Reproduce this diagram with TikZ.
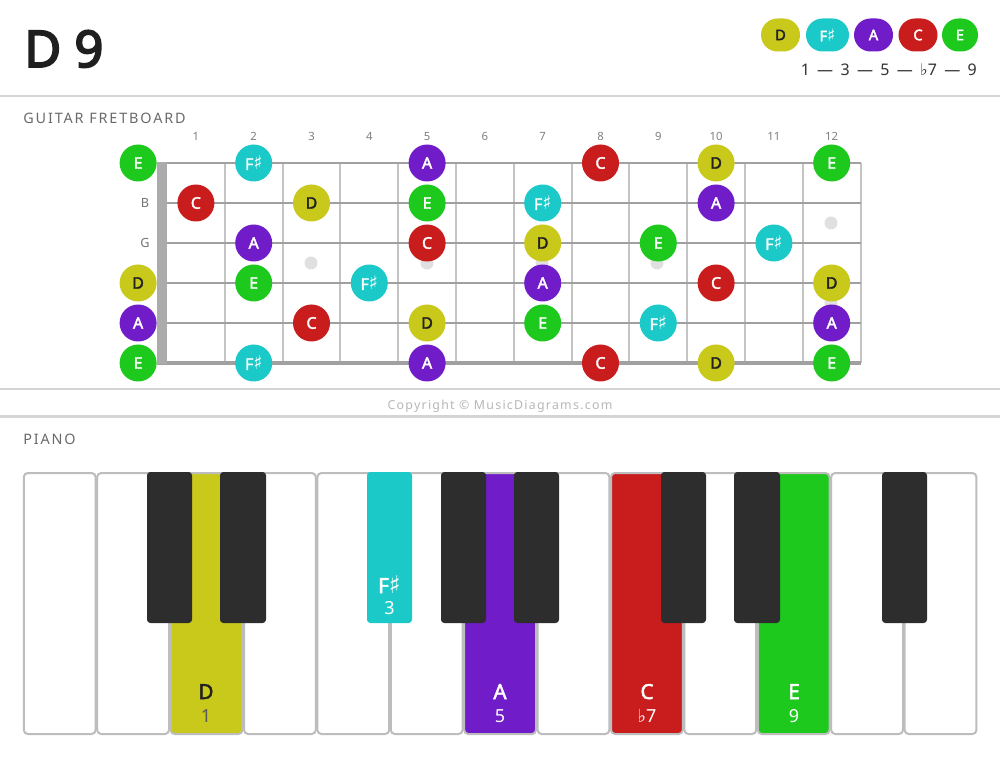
\documentclass[tikz,border=0pt]{standalone}
\usepackage{fontspec}
\setmainfont{Noto Sans}[BoldFont={Noto Sans},BoldFeatures={FakeBold=2.4}]
\newfontfamily\titlef{Noto Sans}[FakeBold=3.6]
\newfontfamily\symf{DejaVu Sans}
\newfontfamily\symbig{DejaVu Sans}[Scale=1.18]
\newfontfamily\spacedf[LetterSpace=13]{Noto Sans}
\newfontfamily\copyf[LetterSpace=10]{Noto Sans}
\usetikzlibrary{shapes.misc}
\definecolor{dcol}{HTML}{C9C91C}
\definecolor{fcol}{HTML}{1CC9C9}
\definecolor{acol}{HTML}{701CC9}
\definecolor{ccol}{HTML}{C91C1C}
\definecolor{ecol}{HTML}{1CC91C}
\definecolor{dtext}{HTML}{222222}
\definecolor{sepc}{HTML}{D4D4D4}
\definecolor{strc}{HTML}{A0A0A0}
\definecolor{fretc}{HTML}{C4C4C4}
\definecolor{nutc}{HTML}{ABABAB}
\definecolor{dotc}{HTML}{E0E0E0}
\definecolor{keyb}{HTML}{BDBDBD}
\definecolor{blk}{HTML}{2D2D2D}
\definecolor{labc}{HTML}{6A6A6A}
\newcommand\shp{{\symbig ♯}}
\newcommand\flt{{\symf ♭}}
\newcommand\ds{\hspace{5.5pt}—\hspace{5.5pt}}
\begin{document}
\begin{tikzpicture}[x=0.75pt,y=-0.75pt,
  txt/.style={inner sep=0pt},
  notec/.style={circle,minimum size=27.75pt,inner sep=0pt,font=\fontsize{12}{12}\selectfont\bfseries,text=white},
  nD/.style={notec,fill=dcol,text=dtext},
  nF/.style={notec,fill=fcol},
  nA/.style={notec,fill=acol},
  nC/.style={notec,fill=ccol},
  nE/.style={notec,fill=ecol},
  lg/.style={rounded rectangle,minimum height=24.75pt,minimum width=29.25pt,inner sep=0pt,font=\fontsize{11}{11}\selectfont\bfseries,text=white},
  sepline/.style={sepc,line width=1.6pt},
  fretline/.style={fretc,line width=1.5pt},
  strline/.style={strc},
  inlay/.style={circle,fill=dotc,minimum size=9.75pt,inner sep=0pt},
  wkey/.style={draw=keyb,line width=1.5pt,rounded corners=3pt},
  bkey/.style={fill=blk,rounded corners=2.5pt},
  keyname/.style={txt,anchor=base,font=\fontsize{15.5}{16}\selectfont\bfseries},
  keynum/.style={txt,anchor=base,font=\fontsize{13.5}{14}\selectfont}
]
\fill[white] (0,0) rectangle (1000,759);
\useasboundingbox (0,0) rectangle (1000,759);

% title
\node[txt,anchor=base west,font=\titlef\fontsize{38}{40}\selectfont,text=black!88] (title) at (24,67) {D 9};

% legend
\node[lg,fill=dcol,text=dtext] (lgD) at (780.5,35) {D};
\node[lg,fill=fcol,minimum width=32.25pt] (lgF) at (827.5,35) {F\shp};
\node[lg,fill=acol] (lgA) at (873.5,35) {A};
\node[lg,fill=ccol] (lgC) at (918,35) {C};
\node[lg,fill=ecol,minimum width=27pt] (lgE) at (960,35) {E};
\node[txt,anchor=base east,font=\fontsize{12}{12}\selectfont,text=black!80] (ivl) at (977,76) {1\ds3\ds5\ds\flt7\ds9};

% separators
\draw[sepline] (0,96) -- (1000,96);
\draw[sepline] (0,389) -- (1000,389);
\draw[sepline] (0,416.5) -- (1000,416.5);

% section labels
\node[txt,anchor=base west,font=\spacedf\fontsize{10.8}{11}\selectfont,text=labc] (gtitle) at (23,123.5) {GUITAR FRETBOARD};
\node[txt,anchor=base west,font=\spacedf\fontsize{10.8}{11}\selectfont,text=labc] (ptitle) at (23,444) {PIANO};
\node[txt,anchor=base,font=\copyf\fontsize{9.3}{10}\selectfont,text=black!28] (copy) at (500,410) {Copyright © MusicDiagrams.com};

% fret numbers
\foreach \k in {1,...,12}{
  \node[txt,anchor=base,font=\fontsize{8.5}{9}\selectfont,text=black!50] (fn\k) at ({138.1+57.8*\k},141) {\k};
}
% string labels
\node[txt,anchor=base,font=\fontsize{9.5}{10}\selectfont,text=black!55] (lb) at (145,208) {B};
\node[txt,anchor=base,font=\fontsize{9.5}{10}\selectfont,text=black!55] (lg3) at (145,248) {G};

% inlays
\foreach \x/\y [count=\i] in {311/263,427/263,542/263,657/263,831/223,831/303}{
  \node[inlay] (dot\i) at (\x,\y) {};
}
% frets
\foreach \k in {1,...,12}{
  \draw[fretline] ({167+57.8*\k},163) -- ({167+57.8*\k},363);
}
% strings
\foreach \s/\w in {1/1.2,2/1.3,3/1.6,4/1.8,5/2.0,6/2.4}{
  \draw[strline,line width=\w pt] (157,{163+40*(\s-1)}) -- (860.6,{163+40*(\s-1)});
}
% nut
\fill[nutc] (157,162) rectangle (167,364.5);

% notes
\foreach \s/\f/\n/\t in {
  1/0/E/E,1/2/F/F\shp,1/5/A/A,1/8/C/C,1/10/D/D,1/12/E/E,
  2/1/C/C,2/3/D/D,2/5/E/E,2/7/F/F\shp,2/10/A/A,
  3/2/A/A,3/5/C/C,3/7/D/D,3/9/E/E,3/11/F/F\shp,
  4/0/D/D,4/2/E/E,4/4/F/F\shp,4/7/A/A,4/10/C/C,4/12/D/D,
  5/0/A/A,5/3/C/C,5/5/D/D,5/7/E/E,5/9/F/F\shp,5/12/A/A,
  6/0/E/E,6/2/F/F\shp,6/5/A/A,6/8/C/C,6/10/D/D,6/12/E/E}{
  \node[n\n] (s\s f\f) at ({138.1+57.8*\f},{163+40*(\s-1)}) {\t};
}

% piano white keys
\foreach \i/\c in {0/white,1/white,2/dcol,3/white,4/white,5/white,6/acol,7/white,8/ccol,9/white,10/ecol,11/white,12/white}{
  \draw[wkey,fill=\c] ({23.8+73.4*\i},473) rectangle ({23.8+73.4*\i+71.8},734);
}
% black keys
\foreach \a/\b/\c in {147/192/blk,220/266/blk,367/412/fcol,441/486/blk,514/559/blk,661/706/blk,734/780/blk,882/927/blk}{
  \fill[bkey,fill=\c] (\a,472) rectangle (\b,623);
}
% piano labels
\node[keyname,text=dtext] (kD) at (206,699) {D};
\node[keynum,text=black!65] (kD1) at (206,722) {1};
\node[keyname,text=white] (kF) at (389.5,593) {F\shp};
\node[keynum,text=white] (kF3) at (389.5,614) {3};
\node[keyname,text=white] (kA) at (500,699) {A};
\node[keynum,text=white] (kA5) at (500,722) {5};
\node[keyname,text=white] (kC) at (647,699) {C};
\node[keynum,text=white] (kC7) at (647,722) {\flt7};
\node[keyname,text=white] (kE) at (794,699) {E};
\node[keynum,text=white] (kE9) at (794,722) {9};
\end{tikzpicture}
\end{document}
